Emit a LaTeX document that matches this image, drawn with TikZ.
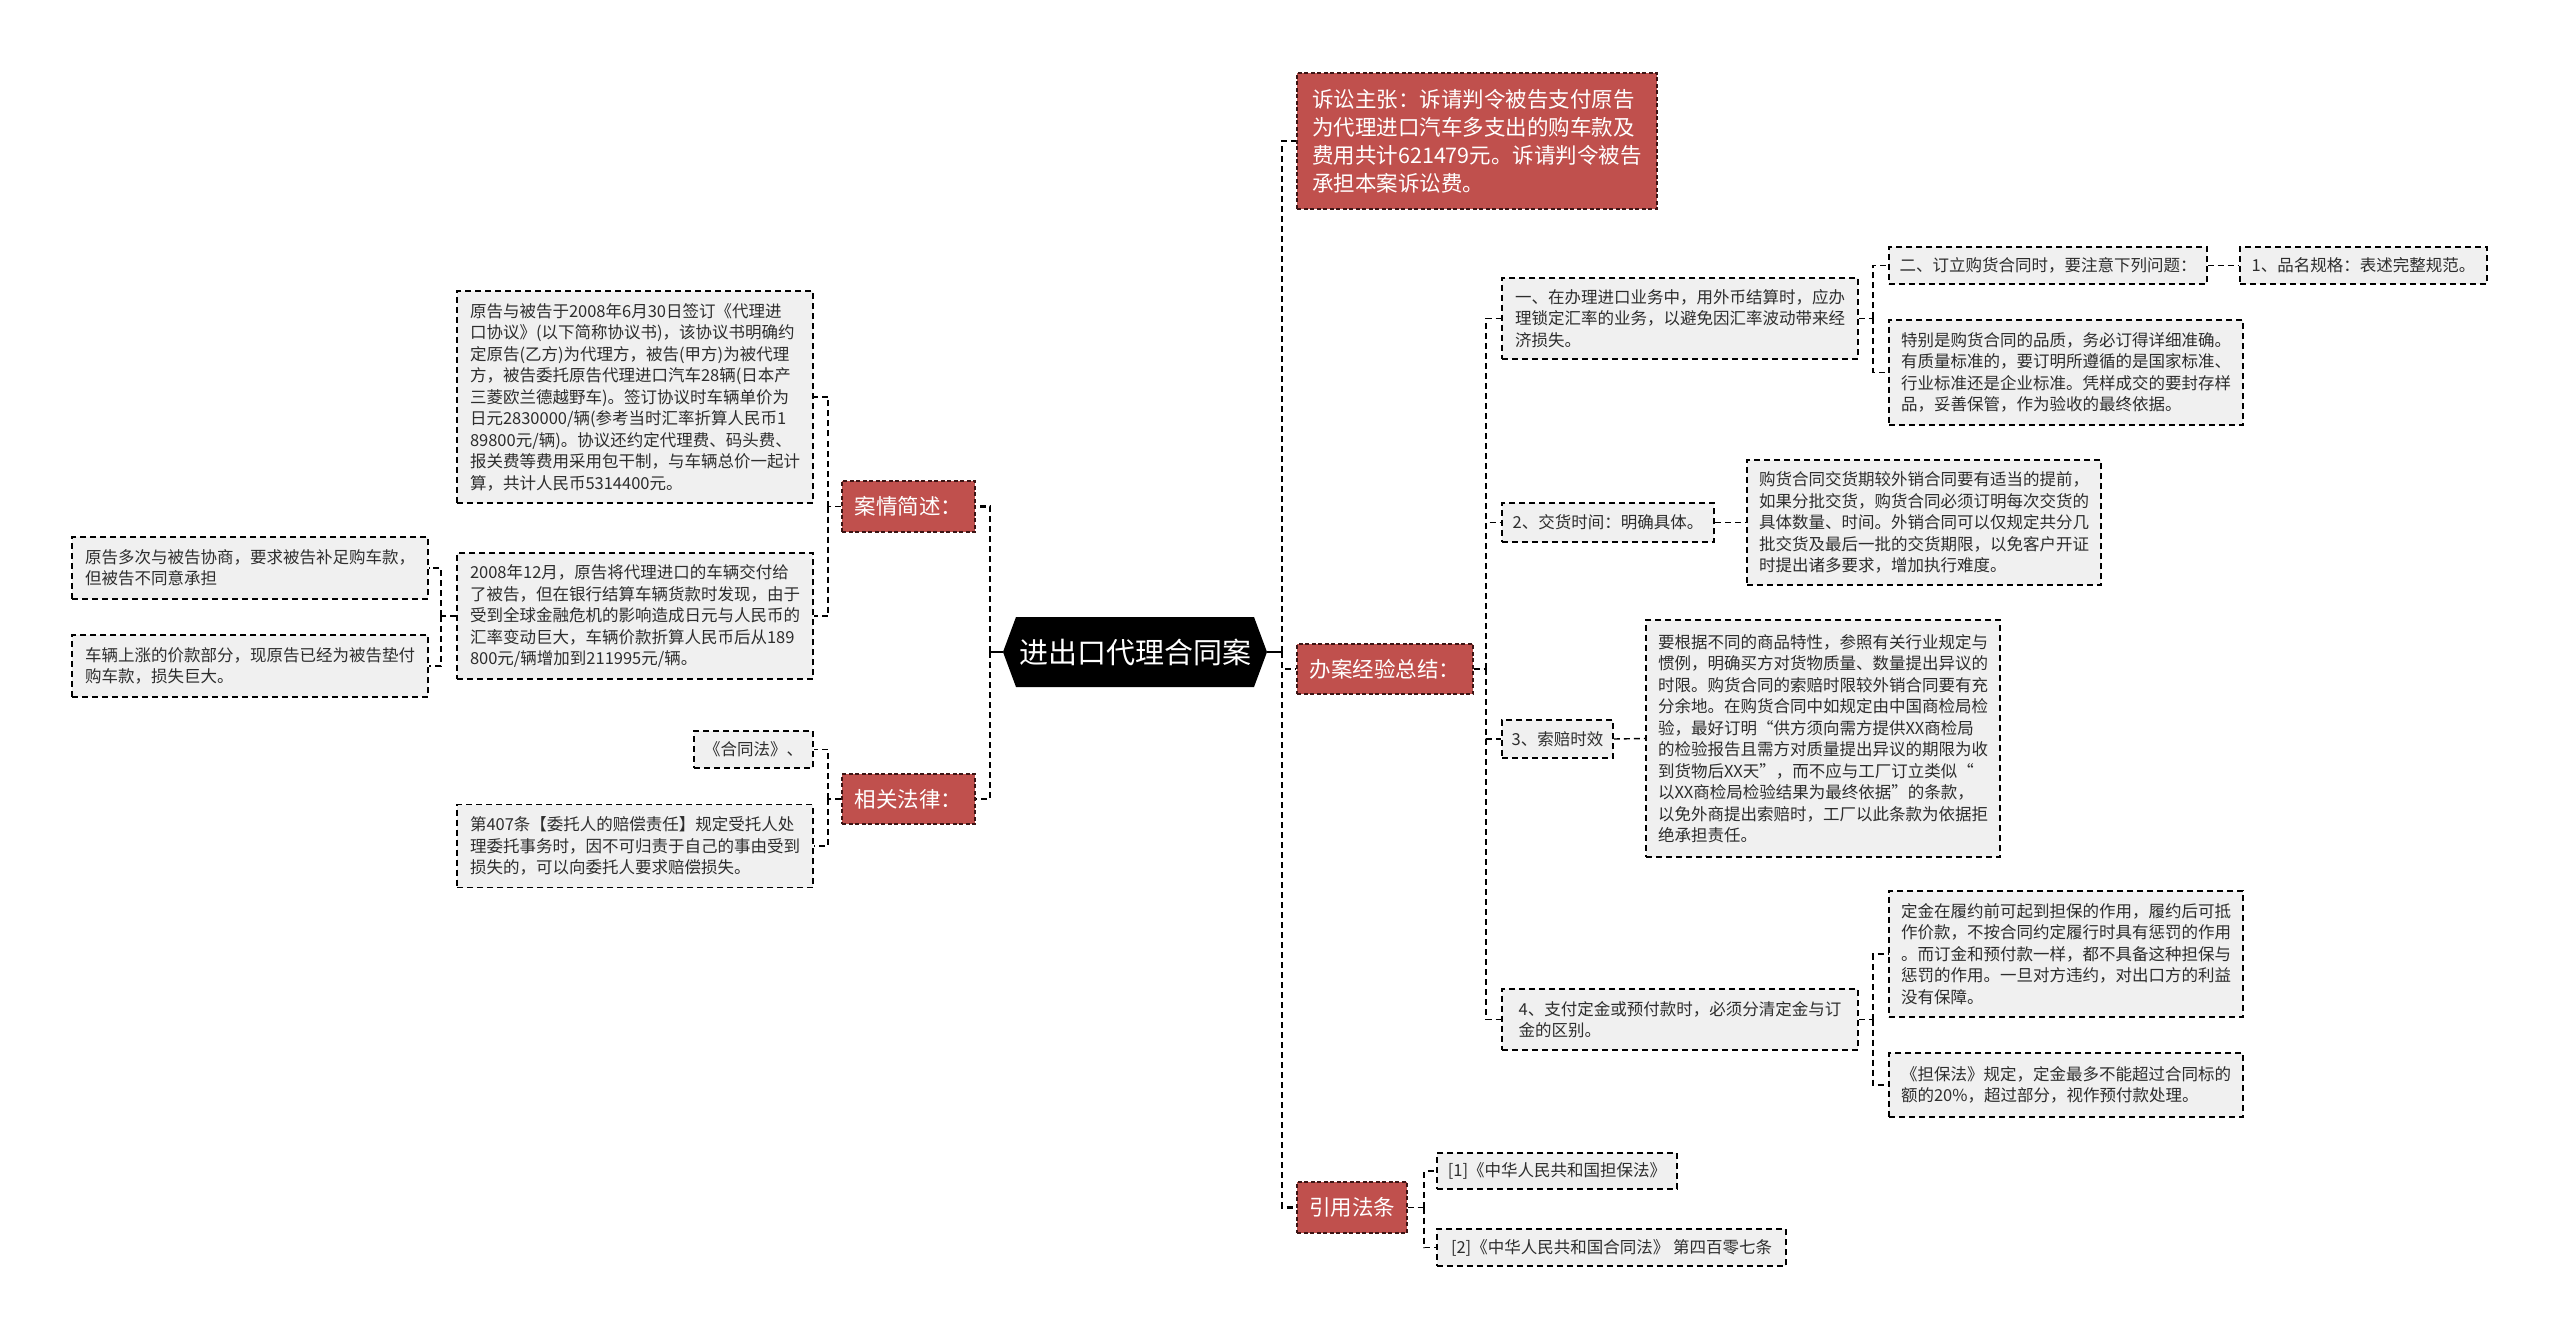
\documentclass[tikz,border=0pt]{standalone}
\usepackage{fontspec}
\newfontfamily\cjk{Noto Sans CJK SC}
\definecolor{redfill}{RGB}{192,80,77}
\definecolor{reddark}{RGB}{60,20,20}
\definecolor{leafgray}{RGB}{240,240,240}
\definecolor{leaftext}{RGB}{45,45,45}
\tikzset{
  leaf/.style={draw=black, fill=leafgray, line width=1.5pt, dash pattern=on 6pt off 4pt,
    inner sep=0pt, align=left, text=leaftext, font=\cjk\fontsize{16.5}{21.5}\selectfont},
  redbox/.style={draw=reddark, fill=redfill, line width=1.3pt, dash pattern=on 4pt off 2.5pt,
    inner sep=0pt, align=left, text=white, font=\cjk\fontsize{21.5}{28}\selectfont},
  rootbox/.style={inner sep=0pt, text=white, font=\cjk\fontsize{29}{34}\selectfont},
  mainline/.style={draw=black, line width=2.4pt, dash pattern=on 6pt off 4pt},
  subline/.style={draw=black, line width=1.4pt, dash pattern=on 6pt off 4pt},
  rootline/.style={draw=black, line width=2.6pt},
}
\begin{document}
\begin{tikzpicture}[x=1pt,y=-1pt]
\useasboundingbox (0,0) rectangle (2560,1337);
\fill[white] (0,0) rectangle (2560,1337);

% root hexagon
\fill[black] (1003,652) -- (1016,617) -- (1254,617) -- (1267,652) -- (1254,687) -- (1016,687) -- cycle;
\node[rootbox, minimum width=264pt, minimum height=70pt] (root) at (1135,652) {进出口代理合同案};

% left level 1
\node[redbox, minimum width=133pt, minimum height=51pt] (case) at (908.5,506.5) {案情简述：};
\node[redbox, minimum width=133pt, minimum height=50pt] (law) at (908.5,799) {相关法律：};

% left leaves
\node[leaf, minimum width=356pt, minimum height=212pt] (boxA) at (635,397) {原告与被告于2008年6月30日签订《代理进\\口协议》(以下简称协议书)，该协议书明确约\\定原告(乙方)为代理方，被告(甲方)为被代理\\方，被告委托原告代理进口汽车28辆(日本产\\三菱欧兰德越野车)。签订协议时车辆单价为\\日元2830000/辆(参考当时汇率折算人民币1\\89800元/辆)。协议还约定代理费、码头费、\\报关费等费用采用包干制，与车辆总价一起计\\算，共计人民币5314400元。};
\node[leaf, minimum width=356pt, minimum height=126pt] (boxB) at (635,616) {2008年12月，原告将代理进口的车辆交付给\\了被告，但在银行结算车辆货款时发现，由于\\受到全球金融危机的影响造成日元与人民币的\\汇率变动巨大，车辆价款折算人民币后从189\\800元/辆增加到211995元/辆。};
\node[leaf, minimum width=356pt, minimum height=62pt] (neg) at (250,568) {原告多次与被告协商，要求被告补足购车款，\\但被告不同意承担};
\node[leaf, minimum width=356pt, minimum height=62pt] (loss) at (250,666) {车辆上涨的价款部分，现原告已经为被告垫付\\购车款，损失巨大。};
\node[leaf, minimum width=119pt, minimum height=37pt] (hetong) at (753.5,749.5) {《合同法》、};
\node[leaf, minimum width=356pt, minimum height=83pt] (art) at (635,846) {第407条【委托人的赔偿责任】规定受托人处\\理委托事务时，因不可归责于自己的事由受到\\损失的，可以向委托人要求赔偿损失。};

% right level 1
\node[redbox, minimum width=360pt, minimum height=136pt] (claim) at (1477,141) {诉讼主张：诉请判令被告支付原告\\为代理进口汽车多支出的购车款及\\费用共计621479元。诉请判令被告\\承担本案诉讼费。};
\node[redbox, minimum width=176pt, minimum height=50pt] (exp) at (1385,669) {办案经验总结：};
\node[redbox, minimum width=110pt, minimum height=51pt] (cite) at (1352,1207.5) {引用法条};

% right leaves
\node[leaf, minimum width=356pt, minimum height=81pt] (e1) at (1680,318.5) {一、在办理进口业务中，用外币结算时，应办\\理锁定汇率的业务，以避免因汇率波动带来经\\济损失。};
\node[leaf, minimum width=318pt, minimum height=37pt] (e1a) at (2048,265.5) {二、订立购货合同时，要注意下列问题：};
\node[leaf, minimum width=247pt, minimum height=37pt] (e1a1) at (2363.5,265.5) {1、品名规格：表述完整规范。};
\node[leaf, minimum width=354pt, minimum height=105pt] (e1b) at (2066,372.5) {特别是购货合同的品质，务必订得详细准确。\\有质量标准的，要订明所遵循的是国家标准、\\行业标准还是企业标准。凭样成交的要封存样\\品，妥善保管，作为验收的最终依据。};
\node[leaf, minimum width=212pt, minimum height=39pt] (e2) at (1608,522.5) {2、交货时间：明确具体。};
\node[leaf, minimum width=354pt, minimum height=125pt] (e2a) at (1924,522.5) {购货合同交货期较外销合同要有适当的提前，\\如果分批交货，购货合同必须订明每次交货的\\具体数量、时间。外销合同可以仅规定共分几\\批交货及最后一批的交货期限，以免客户开证\\时提出诸多要求，增加执行难度。};
\node[leaf, minimum width=111pt, minimum height=38pt] (e3) at (1557.5,739) {3、索赔时效};
\node[leaf, minimum width=354pt, minimum height=237pt] (e3a) at (1823,738.5) {要根据不同的商品特性，参照有关行业规定与\\惯例，明确买方对货物质量、数量提出异议的\\时限。购货合同的索赔时限较外销合同要有充\\分余地。在购货合同中如规定由中国商检局检\\验，最好订明“供方须向需方提供XX商检局\\的检验报告且需方对质量提出异议的期限为收\\到货物后XX天”，而不应与工厂订立类似“\\以XX商检局检验结果为最终依据”的条款，\\以免外商提出索赔时，工厂以此条款为依据拒\\绝承担责任。};
\node[leaf, minimum width=356pt, minimum height=61pt] (e4) at (1680,1019.5) {4、支付定金或预付款时，必须分清定金与订\\金的区别。};
\node[leaf, minimum width=354pt, minimum height=126pt] (e4a) at (2066,954) {定金在履约前可起到担保的作用，履约后可抵\\作价款，不按合同约定履行时具有惩罚的作用\\。而订金和预付款一样，都不具备这种担保与\\惩罚的作用。一旦对方违约，对出口方的利益\\没有保障。};
\node[leaf, minimum width=354pt, minimum height=64pt] (e4b) at (2066,1085) {《担保法》规定，定金最多不能超过合同标的\\额的20\%，超过部分，视作预付款处理。};
\node[leaf, minimum width=240pt, minimum height=36pt] (c1) at (1557,1171) {[1]《中华人民共和国担保法》};
\node[leaf, minimum width=349pt, minimum height=37pt] (c2) at (1611.5,1247.5) {[2]《中华人民共和国合同法》 第四百零七条};

% junctions
\coordinate (jL) at (990,652);
\coordinate (jR) at (1282,652);
\coordinate (jA) at (828,506.5);
\coordinate (jB) at (441,616);
\coordinate (jC) at (828,799);
\coordinate (jE) at (1486,669);
\coordinate (jE1) at (1873,318.5);
\coordinate (jE4) at (1873,1019.5);
\coordinate (jCi) at (1424,1207.5);

% main connectors
\draw[rootline] (root.west) -- (jL);
\draw[rootline] (root.east) -- (jR);
\draw[mainline] (jL) |- (case.east);
\draw[mainline] (jL) |- (law.east);
\draw[mainline] (jR) |- (claim.west);
\draw[mainline] (jR) |- (exp.west);
\draw[mainline] (jR) |- (cite.west);

% left sub connectors
\draw[subline] (case.west) -- (jA);
\draw[subline] (jA) |- (boxA.east);
\draw[subline] (jA) |- (boxB.east);
\draw[subline] (boxB.west) -- (jB);
\draw[subline] (jB) |- (neg.east);
\draw[subline] (jB) |- (loss.east);
\draw[subline] (law.west) -- (jC);
\draw[subline] (jC) |- (hetong.east);
\draw[subline] (jC) |- (art.east);

% right sub connectors
\draw[subline] (exp.east) -- (jE);
\draw[subline] (jE) |- (e1.west);
\draw[subline] (jE) |- (e2.west);
\draw[subline] (jE) |- (e3.west);
\draw[subline] (jE) |- (e4.west);
\draw[subline] (e1.east) -- (jE1);
\draw[subline] (jE1) |- (e1a.west);
\draw[subline] (jE1) |- (e1b.west);
\draw[subline] (e1a.east) -- (e1a1.west);
\draw[subline] (e2.east) -- (e2a.west);
\draw[subline] (e3.east) -- (e3a.west);
\draw[subline] (e4.east) -- (jE4);
\draw[subline] (jE4) |- (e4a.west);
\draw[subline] (jE4) |- (e4b.west);
\draw[subline] (cite.east) -- (jCi);
\draw[subline] (jCi) |- (c1.west);
\draw[subline] (jCi) |- (c2.west);
\end{tikzpicture}
\end{document}
